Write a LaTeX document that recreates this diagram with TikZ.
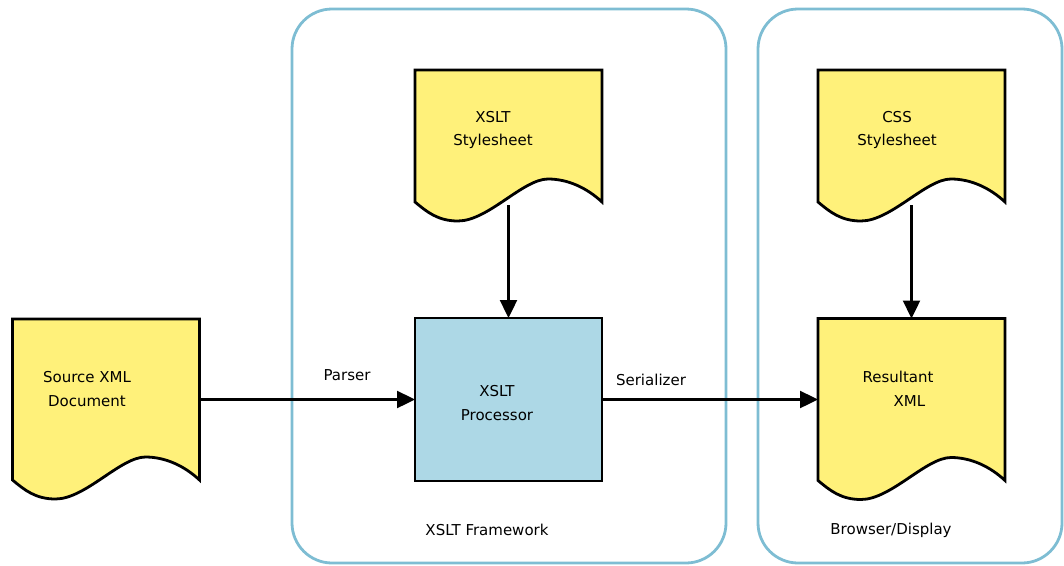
\documentclass[tikz,border=0pt]{standalone}
\usepackage{fontspec}
\setmainfont{DejaVu Sans}
\usetikzlibrary{arrows.meta,calc}
\definecolor{docyellow}{RGB}{255,241,122}
\definecolor{procblue}{RGB}{173,216,230}
\definecolor{framecol}{RGB}{126,189,211}
\tikzset{
  docbox/.style={minimum width=187pt,minimum height=#1,inner sep=0pt,outer sep=0pt},
  docshape/.style={draw=black,line width=2.8pt,fill=docyellow,line join=miter},
  procbox/.style={draw=black,line width=2.8pt,fill=procblue,minimum width=187pt,minimum height=163pt,inner sep=0pt,outer sep=0pt},
  framebox/.style={draw=framecol,line width=2.8pt,rounded corners=40pt},
  arr/.style={draw=black,line width=2.4pt,-{Triangle[length=18pt,width=17pt]}},
  txt/.style={font=\fontsize{15}{23.5}\selectfont,align=center,inner sep=0pt},
}
\newcommand\docwave[1]{%
  \draw[docshape] (#1.north west) -- (#1.north east) -- (#1.south east)
   .. controls +(-15,-14) and +(20,0) .. ++(-54,-23)
   .. controls +(-25,0) and +(30,0) .. ++(-90,42)
   .. controls +(-20,0) and +(12,10) .. (#1.south west) -- cycle;}
\begin{document}
\begin{tikzpicture}[x=1pt,y=-1pt]
\useasboundingbox (0,0) rectangle (1064,565);
% frames
\draw[framebox] (292,9) rectangle (726,563);
\draw[framebox] (758,9) rectangle (1062,563);
% document nodes
\node[docbox=161pt] (src) at (106,399.5) {};
\node[docbox=132pt] (xs)  at (508.5,136) {};
\node[docbox=132pt] (css) at (911.5,136) {};
\node[docbox=162pt] (res) at (911.5,399.5) {};
\docwave{src}
\docwave{xs}
\docwave{css}
\docwave{res}
\node[procbox] (pr) at (508.5,399.5) {};
% texts
\node[txt] (srcT) at (87,389) {Source XML\\Document};
\node[txt] (xsT)  at (493,130) {XSLT\\Stylesheet};
\node[txt] (cssT) at (897,130) {CSS\\Stylesheet};
\node[txt] (prT)  at (497,403) {XSLT\\Processor};
\node[txt,align=left] (resT) at (898,389) {Resultant\\\hspace*{31pt}XML};
\node[txt] (parser) at (347,375) {Parser};
\node[txt] (serial) at (651,380) {Serializer};
\node[txt] (fw) at (487,530) {XSLT Framework};
\node[txt] (bd) at (891,530) {Browser/Display};
% arrows
\draw[arr] (src.east) -- (pr.west);
\draw[arr] (pr.east) -- (res.west);
\draw[arr] ($(xs.south)+(0,3)$) -- (pr.north);
\draw[arr] ($(css.south)+(0,3)$) -- (res.north);
\end{tikzpicture}
\end{document}
